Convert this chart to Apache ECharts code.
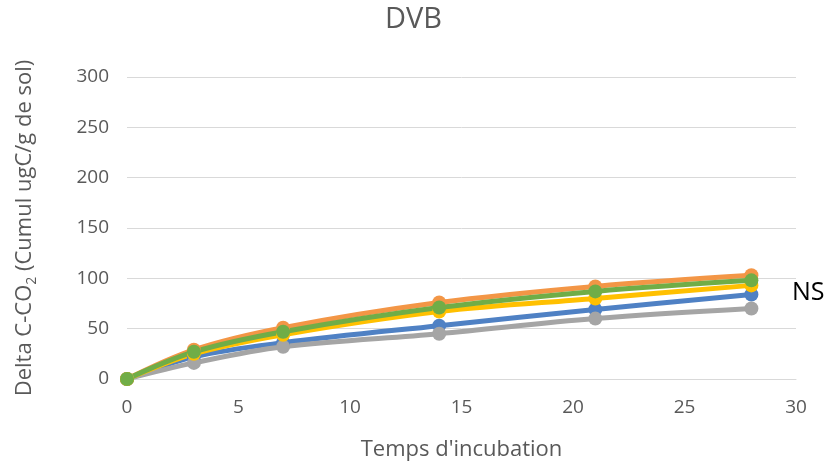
<!DOCTYPE html>
<html>
<head>
<meta charset="utf-8">
<title>DVB</title>
<script src="https://cdn.jsdelivr.net/npm/echarts@6/dist/echarts.min.js"></script>
<style>
  html, body { margin: 0; padding: 0; background: #fff; }
  #main { width: 827px; height: 466px; }
</style>
</head>
<body>
<div id="main"></div>
<script>
// jours d'incubation
var days = [0, 3, 7, 14, 21, 28];
// valeurs (ordre de tracé Excel)
var blueVals   = [0, 22, 36, 53, 69, 84];
var orangeVals = [0, 29, 51, 76, 92, 103];
var grayVals   = [0, 16, 32, 45, 60, 70];
var yellowVals = [0, 25, 44, 67, 80, 93];
var greenVals  = [0, 27, 47, 71, 87, 98];
var yTicks = [0, 50, 100, 150, 200, 250, 300];
var xTicks = [0, 5, 10, 15, 20, 25, 30];

var font = 'Open Sans';
var chart = echarts.init(document.getElementById('main'));

function pts (vals) {
  return days.map(function (d, i) { return [d, vals[i]]; });
}
function serie (name, color, vals) {
  return {
    name: name,
    type: 'line',
    smooth: 0.35,
    data: pts(vals),
    symbol: 'circle',
    symbolSize: 14,
    lineStyle: { width: 5, color: color },
    itemStyle: { color: color },
    emphasis: { disabled: true }
  };
}

var option = {
  animation: false,
  title: {
    text: 'DVB',
    left: 'center',
    top: 0,
    textStyle: { color: '#595959', fontSize: 29, fontWeight: 'normal', fontFamily: font }
  },
  grid: { left: 127, right: 31, top: 77, bottom: 85 },
  xAxis: {
    type: 'value',
    min: xTicks[0],
    max: xTicks[xTicks.length - 1],
    interval: 5,
    name: "Temps d'incubation",
    nameLocation: 'middle',
    nameGap: 60,
    nameTextStyle: { color: '#595959', fontSize: 22, fontFamily: font },
    axisLine: { show: true, lineStyle: { color: '#D9D9D9', width: 1 } },
    axisTick: { show: false },
    splitLine: { show: false },
    axisLabel: { color: '#595959', fontSize: 19, fontFamily: font, margin: 19 }
  },
  yAxis: {
    type: 'value',
    min: yTicks[0],
    max: yTicks[yTicks.length - 1],
    interval: 50,
    name: 'Delta C-CO{sub|2} (Cumul ugC/g de sol)',
    nameLocation: 'middle',
    nameGap: 88,
    nameTextStyle: {
      color: '#595959', fontSize: 22, fontFamily: font, lineHeight: 28,
      rich: { sub: { fontSize: 14, verticalAlign: 'bottom', lineHeight: 28, color: '#595959', fontFamily: font } }
    },
    axisLine: { show: false },
    axisTick: { show: false },
    splitLine: { lineStyle: { color: '#D9D9D9', width: 1 } },
    axisLabel: { color: '#595959', fontSize: 19, fontFamily: font, margin: 18 }
  },
  graphic: [{
    type: 'text',
    left: 792,
    top: 280,
    style: { text: 'NS', fill: '#000', fontSize: 25, fontFamily: font }
  }],
  series: [
    serie('Bleu', '#4F81C4', blueVals),
    serie('Orange', '#F39646', orangeVals),
    serie('Gris', '#A5A5A5', grayVals),
    serie('Jaune', '#FFC000', yellowVals),
    serie('Vert', '#70AD47', greenVals)
  ]
};

chart.setOption(option);
window.addEventListener('resize', function () { chart.resize(); });
</script>
</body>
</html>
